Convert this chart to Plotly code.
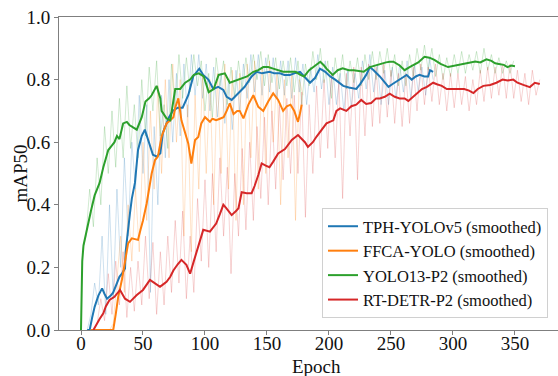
import plotly.graph_objects as go

# ---------------- data ----------------
names = ["TPH-YOLOv5 (smoothed)", "FFCA-YOLO (smoothed)", "YOLO13-P2 (smoothed)", "RT-DETR-P2 (smoothed)"]
colors = ["#1f77b4", "#ff7f0e", "#2ca02c", "#d62728"]
raw_colors = ["rgba(31,119,180,0.22)", "rgba(255,127,14,0.22)", "rgba(44,160,44,0.22)", "rgba(214,39,40,0.20)"]

# smoothed curves (epoch, value)
blue_ep = [5,7,9,11,14,17,19,21,24,26,29,31,33,35.5,36,38,39.5,41,43.5,46,49,51.5,54,58,61,64,66,69,71,74,78,82,86.5,90.5,95.4,98.6,102.7,106.7,110.7,114.8,117.5,121.5,124,127,132,137.6,141.7,146,152,156,160.5,164,168.5,172,176.6,180,184.7,188.7,192.7,197,201,205,208,211.5,216,222,225,227.7,230,233,236,241,244,248,251,254.6,259,262.6,266.7,270,273,277,280,281.5,284]
blue_val = [0.0,0.0,0.04,0.074,0.11,0.133,0.115,0.10,0.11,0.12,0.15,0.17,0.18,0.197,0.25,0.33,0.373,0.42,0.47,0.575,0.62,0.64,0.61,0.56,0.554,0.565,0.63,0.66,0.68,0.70,0.71,0.71,0.75,0.81,0.835,0.815,0.80,0.77,0.777,0.767,0.745,0.735,0.745,0.76,0.777,0.81,0.825,0.82,0.825,0.82,0.82,0.815,0.815,0.82,0.825,0.81,0.79,0.805,0.835,0.825,0.81,0.80,0.79,0.78,0.775,0.77,0.785,0.80,0.815,0.84,0.83,0.81,0.795,0.777,0.785,0.794,0.805,0.815,0.80,0.81,0.815,0.81,0.81,0.83,0.825]

orange_ep = [8,26,28,30,33,35.5,38,41,43,46,48,50,53,55.6,57,59.7,62,65,69,72,74.5,76,78.5,81,84,86.5,89,92,94.6,97,100,104,106,109,112,115,117.5,120,123,126,128,131,135,139,143,147,151,155,159,163,166,169,172,175,176.5,178]
orange_val = [0.0,0.0,0.05,0.106,0.16,0.213,0.277,0.293,0.29,0.288,0.32,0.35,0.405,0.47,0.50,0.543,0.554,0.618,0.66,0.67,0.68,0.71,0.74,0.67,0.628,0.596,0.532,0.607,0.617,0.66,0.68,0.665,0.675,0.67,0.675,0.68,0.70,0.724,0.69,0.70,0.70,0.676,0.72,0.75,0.713,0.70,0.73,0.756,0.735,0.70,0.715,0.72,0.70,0.665,0.69,0.72]

green_ep = [0,1,2,4,6,8,11,13,15,18,20,22,25,27,29,31,34,37,39,41,45,49,52,55,57,61,64,65,69,72,74,76,80,84,88,91,95,99,103,107,111,116,120,124,128,134,139,143,147,151,155,159,163,168,173,177,180,184,187,190,193,196,198,203,207,211,216,220,224,228,233,237,241,246,249,252,257,261,265,268,272,277,281,285,290,296,300,305,310,314,318,322,327,331,334,337,341,344,347,350]
green_val = [0.0,0.22,0.27,0.31,0.35,0.38,0.43,0.45,0.47,0.52,0.55,0.575,0.59,0.60,0.62,0.61,0.66,0.665,0.655,0.65,0.64,0.68,0.73,0.74,0.75,0.78,0.74,0.70,0.676,0.67,0.72,0.77,0.77,0.79,0.80,0.815,0.82,0.81,0.76,0.77,0.815,0.82,0.79,0.795,0.80,0.81,0.825,0.83,0.84,0.84,0.835,0.83,0.825,0.825,0.825,0.815,0.81,0.83,0.84,0.85,0.857,0.845,0.835,0.815,0.83,0.836,0.83,0.83,0.828,0.825,0.84,0.845,0.85,0.855,0.857,0.857,0.845,0.83,0.84,0.847,0.855,0.873,0.87,0.863,0.85,0.84,0.843,0.847,0.85,0.855,0.858,0.855,0.865,0.86,0.852,0.85,0.847,0.84,0.845,0.843]

red_ep = [10,12.6,15,18,20,23,27,31.5,35.5,39.5,42,45,50,53,55.6,59.7,63.7,66,69,72,74.5,78,81,85,88,91,93,96,98.6,104,107,109,112,114.8,117,121.5,125,127,129.6,133.6,137.6,140,143,145.7,149,152,155,159,164.5,170,175,180.6,183,187,190,194,198,203.5,206,209,214,218,222,226,230,234,238,241,245,249,253,257,261,264,268,271,275,279,284,287,291,295,300,305,309,313,316.5,320,324.5,330,335,340,344,348.6,352,356.7,362,366,370]
red_val = [0.0,0.02,0.035,0.053,0.075,0.096,0.106,0.128,0.10,0.09,0.10,0.112,0.128,0.145,0.16,0.149,0.138,0.145,0.154,0.17,0.19,0.21,0.224,0.208,0.18,0.22,0.245,0.29,0.32,0.314,0.33,0.34,0.37,0.40,0.39,0.367,0.38,0.389,0.44,0.437,0.437,0.46,0.495,0.532,0.525,0.52,0.538,0.564,0.578,0.607,0.623,0.60,0.585,0.60,0.618,0.64,0.66,0.67,0.70,0.708,0.70,0.715,0.72,0.735,0.722,0.725,0.74,0.74,0.745,0.755,0.745,0.74,0.74,0.732,0.745,0.755,0.77,0.777,0.79,0.785,0.78,0.77,0.77,0.768,0.77,0.765,0.757,0.77,0.78,0.783,0.79,0.80,0.797,0.80,0.79,0.783,0.776,0.79,0.786]

# raw (unsmoothed) values, one every RAW_STEP epochs starting at the given epoch
RAW_STEP = 3
blue_raw_start = 5
blue_raw = [0.0,0.05,0.15,0.08,0.30,0.05,0.40,0.10,0.45,0.20,0.55,0.30,0.60,0.45,0.75,0.50,0.72,0.12,0.65,0.40,0.75,0.55,0.80,0.60,0.82,0.62,0.85,0.68,0.88,0.75,0.88,0.74,0.85,0.70,0.84,0.68,0.82,0.66,0.80,0.64,0.83,0.70,0.85,0.74,0.88,0.76,0.88,0.75,0.87,0.76,0.87,0.74,0.86,0.75,0.86,0.74,0.87,0.76,0.85,0.72,0.84,0.76,0.88,0.77,0.86,0.72,0.84,0.72,0.82,0.70,0.83,0.71,0.82,0.74,0.86,0.77,0.88,0.76,0.85,0.72,0.83,0.72,0.84,0.74,0.85,0.76,0.86,0.74,0.85,0.76,0.84,0.75,0.87,0.80]
orange_raw_start = 8
orange_raw = [0.0,0.0,0.0,0.0,0.0,0.0,0.02,0.15,0.30,0.12,0.40,0.22,0.45,0.25,0.60,0.35,0.70,0.45,0.78,0.50,0.80,0.55,0.85,0.60,0.80,0.30,0.72,0.25,0.75,0.45,0.82,0.50,0.80,0.40,0.82,0.50,0.85,0.45,0.83,0.35,0.82,0.40,0.85,0.55,0.86,0.45,0.84,0.50,0.86,0.60,0.82,0.40,0.80,0.55,0.82,0.35,0.80,0.75]
green_raw_start = 1
green_raw = [0.25,0.30,0.45,0.33,0.55,0.40,0.65,0.50,0.70,0.52,0.74,0.55,0.78,0.58,0.72,0.55,0.80,0.62,0.84,0.70,0.86,0.62,0.72,0.58,0.85,0.70,0.88,0.74,0.87,0.76,0.88,0.78,0.86,0.70,0.82,0.68,0.87,0.78,0.86,0.72,0.84,0.74,0.86,0.77,0.87,0.79,0.88,0.80,0.89,0.78,0.88,0.79,0.87,0.77,0.86,0.78,0.87,0.76,0.86,0.72,0.85,0.78,0.89,0.80,0.90,0.79,0.86,0.74,0.87,0.79,0.88,0.77,0.86,0.79,0.87,0.78,0.88,0.80,0.89,0.80,0.89,0.82,0.90,0.81,0.88,0.78,0.86,0.78,0.88,0.81,0.90,0.83,0.91,0.83,0.90,0.81,0.88,0.80,0.87,0.81,0.88,0.82,0.89,0.82,0.88,0.83,0.89,0.82,0.90,0.83,0.88,0.82,0.87,0.82,0.86,0.82,0.86]
red_raw_start = 10
red_raw = [0.0,0.02,0.10,0.03,0.18,0.05,0.22,0.08,0.25,0.04,0.20,0.06,0.22,0.08,0.30,0.10,0.28,0.05,0.25,0.08,0.30,0.12,0.35,0.15,0.38,0.10,0.30,0.12,0.42,0.22,0.48,0.20,0.50,0.25,0.55,0.30,0.52,0.18,0.50,0.30,0.58,0.32,0.60,0.35,0.65,0.42,0.68,0.40,0.70,0.45,0.72,0.48,0.74,0.50,0.75,0.50,0.76,0.36,0.72,0.50,0.78,0.55,0.80,0.58,0.82,0.55,0.80,0.42,0.82,0.62,0.84,0.48,0.84,0.62,0.85,0.65,0.84,0.66,0.85,0.68,0.83,0.66,0.82,0.65,0.82,0.66,0.84,0.70,0.85,0.72,0.84,0.73,0.85,0.72,0.82,0.70,0.82,0.71,0.82,0.72,0.81,0.70,0.80,0.72,0.83,0.73,0.84,0.74,0.84,0.75,0.85,0.74,0.85,0.74,0.83,0.73,0.82,0.72,0.83,0.75,0.80]

x_ticks = [0, 50, 100, 150, 200, 250, 300, 350]
y_ticks = [0.0, 0.2, 0.4, 0.6, 0.8, 1.0]
y_tick_text = ["0.0", "0.2", "0.4", "0.6", "0.8", "1.0"]

smoothed = [(blue_ep, blue_val), (orange_ep, orange_val), (green_ep, green_val), (red_ep, red_val)]
raws = [(blue_raw_start, blue_raw), (orange_raw_start, orange_raw), (green_raw_start, green_raw), (red_raw_start, red_raw)]

# ---------------- figure ----------------
FONT = "Liberation Serif"
fig = go.Figure()

for (start, vals), rc in zip(raws, raw_colors):
    xs = [start + RAW_STEP * i for i in range(len(vals))]
    fig.add_trace(go.Scatter(x=xs, y=vals, mode="lines", line=dict(color=rc, width=1),
                             showlegend=False, hoverinfo="skip"))

for (ep, val), c, n in zip(smoothed, colors, names):
    fig.add_trace(go.Scatter(x=ep, y=val, mode="lines", name=n,
                             line=dict(color=c, width=2)))

W, H = 558, 376
L, R, T, B = 59, 0, 17, 46
pw, ph = W - L - R, H - T - B

fig.update_layout(
    width=W, height=H,
    margin=dict(l=L, r=R, t=T, b=B, pad=0),
    paper_bgcolor="white", plot_bgcolor="white",
    font=dict(family=FONT, size=19, color="#111111"),
    showlegend=True,
    legend=dict(
        x=(548 - L) / pw, xanchor="right",
        y=(H - B - 318) / ph, yanchor="bottom",
        bgcolor="rgba(255,255,255,0.85)",
        bordercolor="#d0d0d0", borderwidth=1,
        font=dict(family=FONT, size=16.5, color="#111111"),
        itemwidth=30, tracegroupgap=0,
    ),
    xaxis=dict(
        range=[-17.74, 384.7], tickvals=x_ticks, ticktext=[str(v) for v in x_ticks],
        showgrid=False, zeroline=False, showline=True, linecolor="#7f7f7f", linewidth=1,
        mirror=True, ticks="outside", ticklen=4, tickcolor="#7f7f7f",
        tickfont=dict(family=FONT, size=19), ticklabelstandoff=-8,
    ),
    yaxis=dict(
        range=[0, 1.0], tickvals=y_ticks, ticktext=y_tick_text,
        showgrid=False, zeroline=False, showline=True, linecolor="#7f7f7f", linewidth=1,
        ticks="outside", ticklen=4, tickcolor="#7f7f7f",
        tickfont=dict(family=FONT, size=19),
    ),
    annotations=[
        dict(text="Epoch", xref="paper", yref="paper",
             x=(316 - L) / pw, y=-(366 - (H - B)) / ph, xanchor="center", yanchor="middle",
             showarrow=False, font=dict(family=FONT, size=19)),
        dict(text="mAP50", xref="paper", yref="paper", textangle=-90,
             x=(20 - L) / pw, y=0.5, xanchor="center", yanchor="middle",
             showarrow=False, font=dict(family=FONT, size=19)),
    ],
)

fig.write_html("out.html")
